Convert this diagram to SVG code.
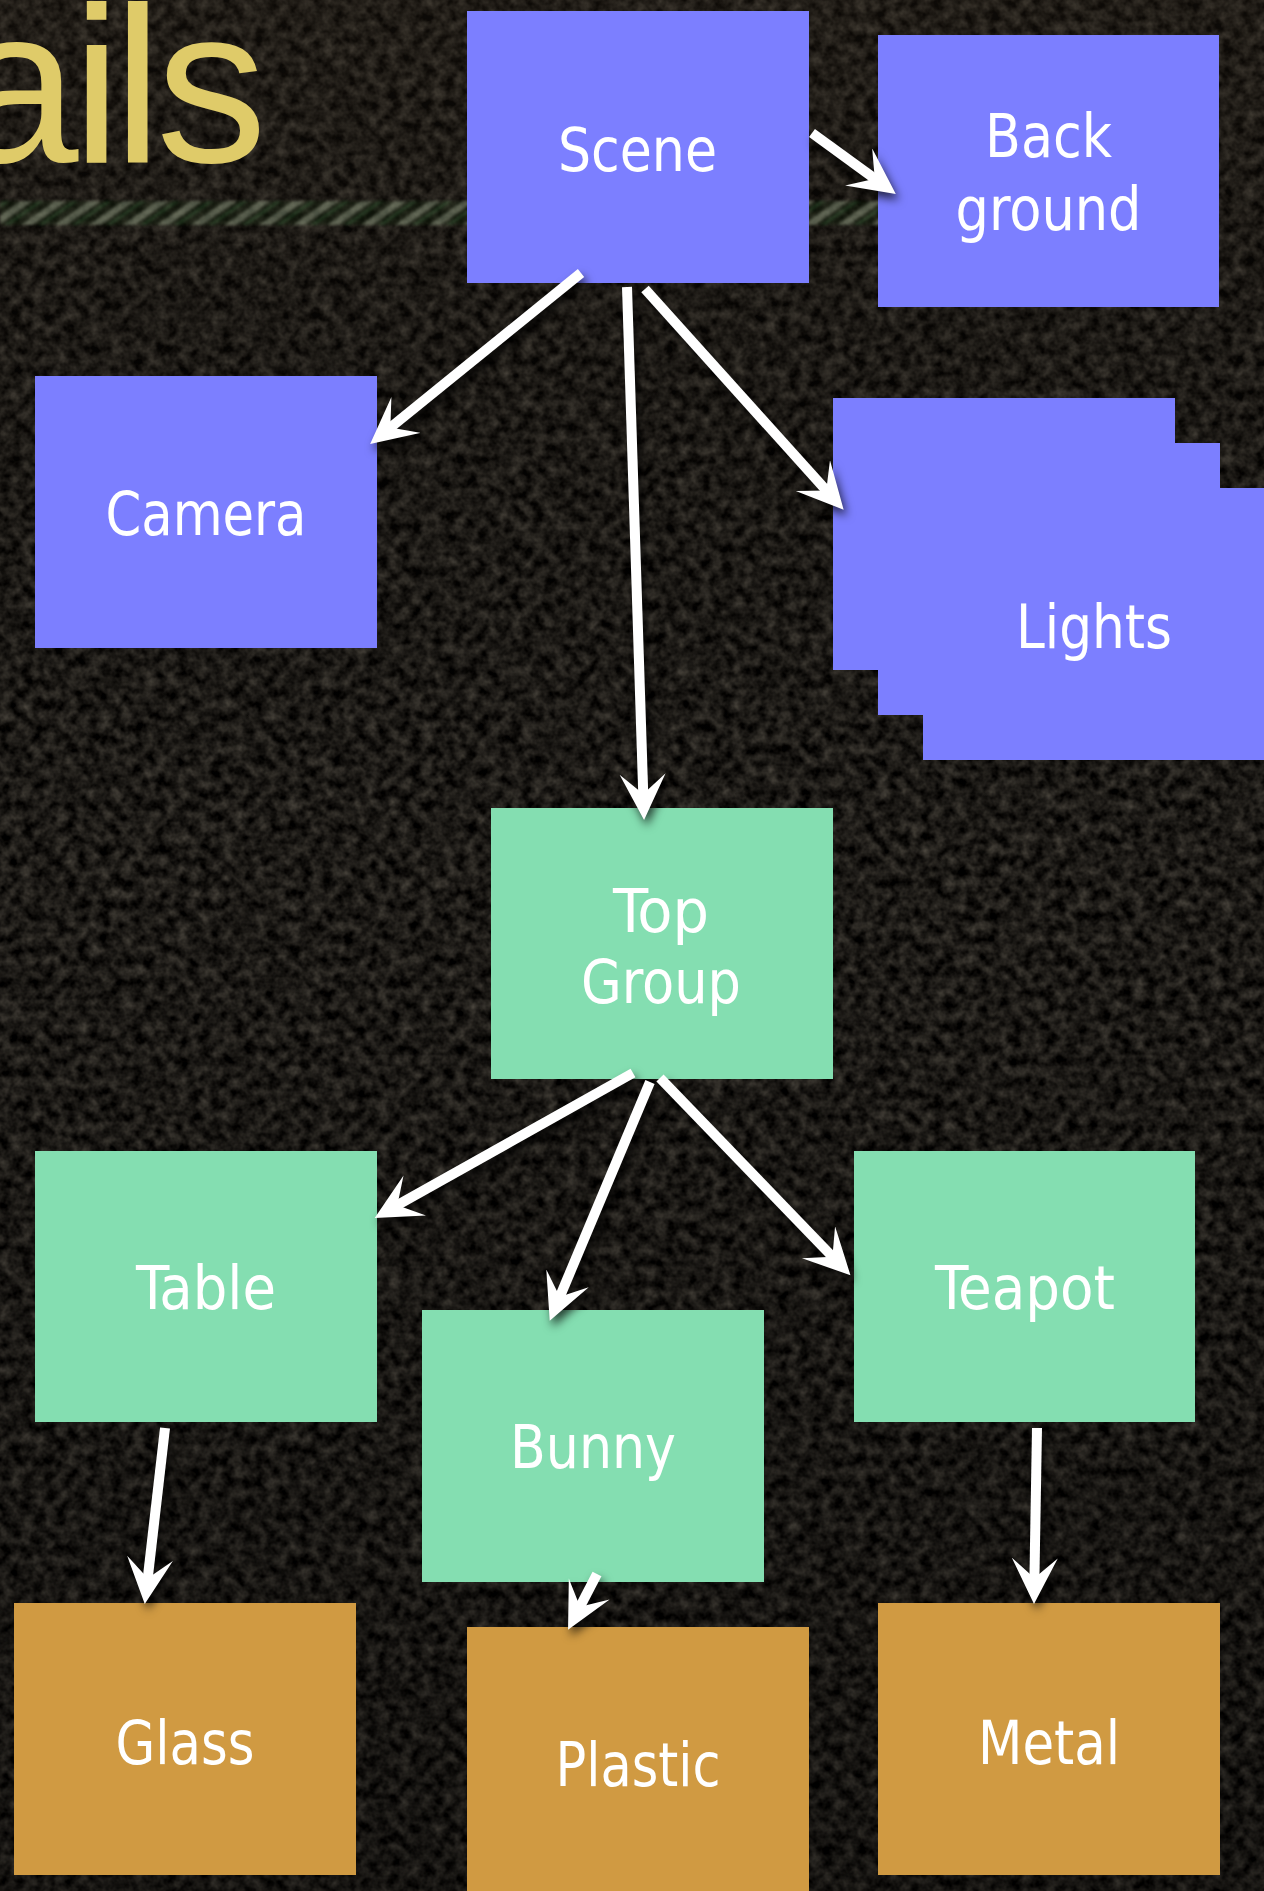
<svg xmlns="http://www.w3.org/2000/svg" width="1264" height="1891" viewBox="0 0 1264 1891">
  <style>
    .scene { fill: #7c7fff; }
    .group { fill: #84deb1; }
    .mat { fill: #d09a42; }
    .lbl { font-family: "DejaVu Sans Condensed", "DejaVu Sans", sans-serif; font-size: 60px; fill: #ffffff; text-anchor: middle; }
    .title { font-family: "Liberation Sans", Arial, sans-serif; font-size: 222px; fill: #dfcb69; }
    .edge { fill: none; stroke: #ffffff; stroke-width: 10; marker-end: url(#head); }
  </style>
  <defs>
    <!-- gritty asphalt backdrop -->
    <filter id="asphalt" x="0" y="0" width="1264" height="1891" filterUnits="userSpaceOnUse" color-interpolation-filters="sRGB">
      <feTurbulence type="fractalNoise" baseFrequency="0.09" numOctaves="3" seed="7" result="n"/>
      <feColorMatrix in="n" type="matrix" values="0.42 0 0 0 -0.095  0.40 0 0 0 -0.095  0.36 0 0 0 -0.09  0 0 0 0 1"/>
    </filter>
    <linearGradient id="shade" x1="0" y1="0" x2="0" y2="1">
      <stop offset="0" stop-color="#2a2218" stop-opacity="0.3"/>
      <stop offset="0.45" stop-color="#000000" stop-opacity="0.05"/>
      <stop offset="1" stop-color="#000000" stop-opacity="0.3"/>
    </linearGradient>
    <!-- twisted rule under the heading -->
    <pattern id="rope" width="34" height="30" patternUnits="userSpaceOnUse" patternTransform="skewX(-55)">
      <rect width="34" height="30" fill="#15220f"/>
      <rect x="2" width="12" height="30" fill="#a3b394"/>
      <rect x="19" width="6" height="30" fill="#356236"/>
    </pattern>
    <filter id="soft" x="-5%" y="-50%" width="110%" height="200%" color-interpolation-filters="sRGB">
      <feGaussianBlur stdDeviation="1.8"/>
    </filter>
    <filter id="drop" x="-20%" y="-20%" width="140%" height="140%" color-interpolation-filters="sRGB">
      <feDropShadow dx="3" dy="6" stdDeviation="5" flood-color="#000000" flood-opacity="0.7"/>
    </filter>
    <marker id="head" markerUnits="userSpaceOnUse" markerWidth="48" markerHeight="48" viewBox="0 0 48 48" refX="22" refY="23" orient="auto">
      <path d="M0,0 L46,23 L0,46 L20,23 Z" fill="#ffffff"/>
    </marker>
  </defs>

  <!-- backdrop -->
  <rect width="1264" height="1891" fill="#17140f"/>
  <rect width="1264" height="1891" filter="url(#asphalt)"/>
  <rect width="1264" height="1891" fill="url(#shade)"/>
  <rect x="0" y="201" width="880" height="24" fill="url(#rope)" opacity="0.45" filter="url(#soft)"/>

  <!-- heading fragment -->
  <text class="title" x="-45 72 113 156" y="162">ails</text>

  <!-- nodes -->
  <g id="scene">
    <rect class="scene" x="467" y="11" width="342" height="272"/>
    <text class="lbl" x="637.5" y="171" textLength="159" lengthAdjust="spacingAndGlyphs">Scene</text>
  </g>
  <g id="background">
    <rect class="scene" x="878" y="35" width="341" height="272"/>
    <text class="lbl" x="1048.5" y="157" textLength="127" lengthAdjust="spacingAndGlyphs">Back</text>
    <text class="lbl" x="1048.5" y="230" textLength="186" lengthAdjust="spacingAndGlyphs">ground</text>
  </g>
  <g id="camera">
    <rect class="scene" x="35" y="376" width="342" height="272"/>
    <text class="lbl" x="206" y="535" textLength="201" lengthAdjust="spacingAndGlyphs">Camera</text>
  </g>
  <g id="lights">
    <rect class="scene" x="833" y="398" width="342" height="272"/>
    <rect class="scene" x="878" y="443" width="342" height="272"/>
    <rect class="scene" x="923" y="488" width="342" height="272"/>
    <text class="lbl" x="1094" y="648" textLength="156" lengthAdjust="spacingAndGlyphs">Lights</text>
  </g>
  <g id="top-group">
    <rect class="group" x="491" y="808" width="342" height="271"/>
    <text class="lbl" x="661" y="932" textLength="96" lengthAdjust="spacingAndGlyphs">Top</text>
    <text class="lbl" x="661" y="1003" textLength="160" lengthAdjust="spacingAndGlyphs">Group</text>
  </g>
  <g id="table">
    <rect class="group" x="35" y="1151" width="342" height="271"/>
    <text class="lbl" x="206" y="1309" textLength="140" lengthAdjust="spacingAndGlyphs">Table</text>
  </g>
  <g id="bunny">
    <rect class="group" x="422" y="1310" width="342" height="272"/>
    <text class="lbl" x="593" y="1468" textLength="166" lengthAdjust="spacingAndGlyphs">Bunny</text>
  </g>
  <g id="teapot">
    <rect class="group" x="854" y="1151" width="341" height="271"/>
    <text class="lbl" x="1025" y="1309" textLength="180" lengthAdjust="spacingAndGlyphs">Teapot</text>
  </g>
  <g id="glass">
    <rect class="mat" x="14" y="1603" width="342" height="272"/>
    <text class="lbl" x="185" y="1764" textLength="139" lengthAdjust="spacingAndGlyphs">Glass</text>
  </g>
  <g id="plastic">
    <rect class="mat" x="467" y="1627" width="342" height="272"/>
    <text class="lbl" x="638" y="1786" textLength="165" lengthAdjust="spacingAndGlyphs">Plastic</text>
  </g>
  <g id="metal">
    <rect class="mat" x="878" y="1603" width="342" height="272"/>
    <text class="lbl" x="1049" y="1764" textLength="142" lengthAdjust="spacingAndGlyphs">Metal</text>
  </g>

  <!-- connectors -->
  <g id="connectors" filter="url(#drop)">
    <path class="edge" d="M812,133 L876.4,179.9"/>
    <path class="edge" d="M581,273 L388.8,428.8"/>
    <path class="edge" d="M627,287 L643.3,796"/>
    <path class="edge" d="M645,289 L827.6,491.9"/>
    <path class="edge" d="M633,1073 L395.6,1206.2"/>
    <path class="edge" d="M650,1082 L559,1298.7"/>
    <path class="edge" d="M660,1078 L833.8,1258.1"/>
    <path class="edge" d="M165,1428 L147.5,1580.2"/>
    <path class="edge" d="M1037,1428 L1034.4,1580"/>
    <path class="edge" d="M597,1574 L579.1,1608.5"/>
  </g>
</svg>
